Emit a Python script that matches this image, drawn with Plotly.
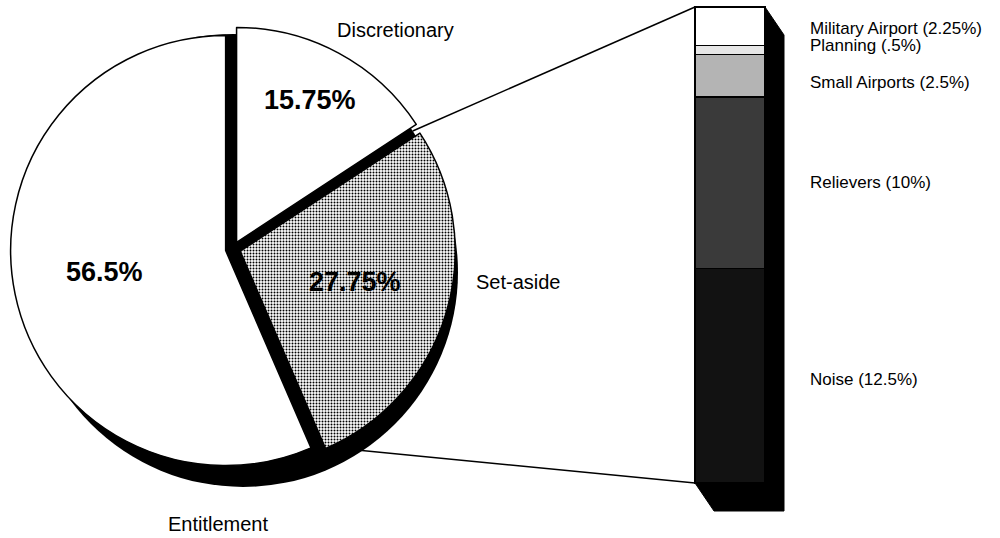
import math
import plotly.graph_objects as go

W, H = 1000, 538

# ---- data ----
pie_labels = ["Discretionary", "Set-aside", "Entitlement"]
pie_values = [15.75, 27.75, 56.5]
pie_text = ["15.75%", "27.75%", "56.5%"]

sub_labels = ["Noise", "Relievers", "Small Airports", "Planning", "Military Airport"]
sub_values = [12.5, 10, 2.5, 0.5, 2.25]
sub_text = ["Noise (12.5%)", "Relievers (10%)", "Small Airports (2.5%)",
            "Planning (.5%)", "Military Airport (2.25%)"]

# ---- style / geometry ----
FONT = "Liberation Sans, Arial, Helvetica, sans-serif"
CX, CY, R = 233, 249, 215
PULL = 0.035
SH_DX, SH_DY = 10, 23
pie_colors = ["white", "#bfbfbf", "white"]
sub_colors = ["#121212", "#3a3a3a", "#b4b4b4", "#e6e6e6", "white"]
sub_shift = [-4, 0, -7, 4, -2]

BX, BW = 730, 70
BAR_TOP_PX, BAR_BOT_PX = 7, 483
EX_DX, EX_DY = 19, 28

total = sum(sub_values)
PXU = (BAR_BOT_PX - BAR_TOP_PX) / total
y_range = [-(H - BAR_BOT_PX) / PXU, total + BAR_TOP_PX / PXU]


def ydata(ypx):
    return y_range[0] + (H - ypx) / H * (y_range[1] - y_range[0])


def dom(cx, cy, half):
    return dict(x=[(cx - half) / W, (cx + half) / W],
                y=[(H - cy - half) / H, (H - cy + half) / H])


fig = go.Figure()

# shadow / gap-filler discs
for k in (1.0, 0.5, 0.0):
    fig.add_trace(go.Pie(values=[1], labels=["shadow"], sort=False,
                         marker=dict(colors=["black"], line=dict(width=0)),
                         textinfo="none", hoverinfo="skip",
                         domain=dom(CX + SH_DX * k, CY + SH_DY * k, R)))

# main pie
fig.add_trace(go.Pie(values=pie_values, labels=pie_labels, sort=False,
                     direction="clockwise", rotation=0,
                     pull=[PULL] * len(pie_values),
                     marker=dict(colors=pie_colors,
                                 line=dict(color="black", width=1.5),
                                 pattern=dict(shape=["", ".", ""], fgcolor="#000000",
                                              size=3, solidity=0.35)),
                     textinfo="none", hoverinfo="label+value",
                     domain=dom(CX, CY, R * (1 + PULL))))

# bar extrusion (3-D side)
x0, x1 = BX - BW / 2, BX + BW / 2
dyu = EX_DY / PXU
fig.add_trace(go.Scatter(
    x=[x0, x0 + EX_DX, x1 + EX_DX, x1 + EX_DX, x1, x1, x0],
    y=[0, -dyu, -dyu, total - dyu, total, 0, 0],
    fill="toself", fillcolor="black", mode="lines",
    line=dict(color="black", width=1), hoverinfo="skip"))

# stacked bar
for lab, v, c in zip(sub_labels, sub_values, sub_colors):
    fig.add_trace(go.Bar(x=[BX], y=[v], width=BW, name=lab,
                         marker=dict(color=c, line=dict(color="black", width=1.2))))

# connector lines from the Set-aside slice edges to the bar
start_ang = pie_values[0] / 100 * 2 * math.pi
end_ang = (pie_values[0] + pie_values[1]) / 100 * 2 * math.pi
p_top = (CX + R * math.sin(start_ang), CY - R * math.cos(start_ang))
p_bot = (CX + R * math.sin(end_ang), CY - R * math.cos(end_ang))
shapes = [
    dict(type="line", xref="x", yref="y", layer="below",
         x0=p_top[0], y0=ydata(p_top[1]), x1=x0, y1=total,
         line=dict(color="black", width=1.5)),
    dict(type="line", xref="x", yref="y", layer="below",
         x0=p_bot[0], y0=ydata(p_bot[1]), x1=x0, y1=0,
         line=dict(color="black", width=1.5)),
]

ann = []
# pie percentage labels
pct_pos = [(310, 100), (355, 282), (104, 272)]
for t, (px, py) in zip(pie_text, pct_pos):
    ann.append(dict(x=px / W, y=1 - py / H, xref="paper", yref="paper",
                    xanchor="center", yanchor="middle",
                    text=f"<b>{t}</b>", showarrow=False,
                    font=dict(family=FONT, size=27, color="black")))
# pie category labels
cat_pos = [(395, 30, "center"), (474, 282, "left"), (218, 524, "center")]
for t, (px, py, xa) in zip(pie_labels, cat_pos):
    ann.append(dict(x=px / W, y=1 - py / H, xref="paper", yref="paper",
                    text=t, showarrow=False, xanchor=xa, yanchor="middle",
                    font=dict(family=FONT, size=20, color="black")))
# bar labels
cum = 0
for t, v, s in zip(sub_text, sub_values, sub_shift):
    mid = cum + v / 2
    cum += v
    ann.append(dict(x=808, y=mid, xref="x", yref="y", text=t, showarrow=False,
                    xanchor="left", yanchor="middle", yshift=s,
                    font=dict(family=FONT, size=17, color="black")))

fig.update_layout(
    width=W, height=H, margin=dict(l=0, r=0, t=0, b=0),
    paper_bgcolor="white", plot_bgcolor="white",
    showlegend=False, barmode="stack",
    xaxis=dict(range=[0, W], visible=False, domain=[0, 1], fixedrange=True),
    yaxis=dict(range=y_range, visible=False, domain=[0, 1], fixedrange=True),
    shapes=shapes, annotations=ann,
)

fig.write_html("out.html", config={"displayModeBar": False},
               post_script="document.body.style.margin='0';document.body.style.overflow='hidden';")
